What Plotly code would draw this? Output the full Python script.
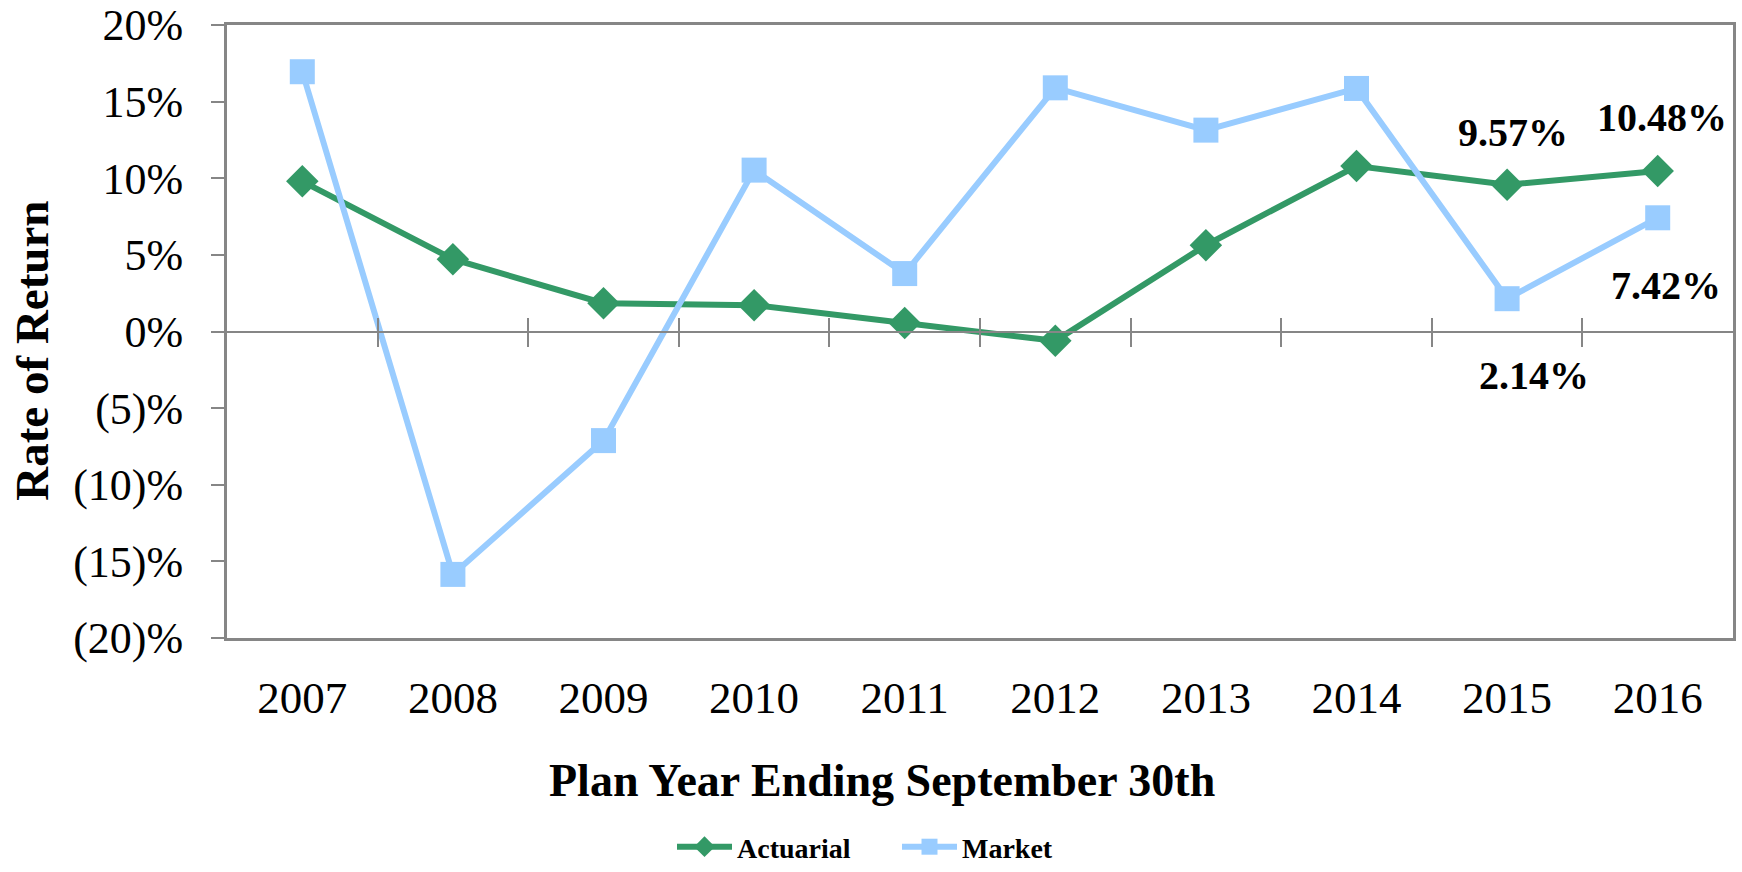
import plotly.graph_objects as go

# ── Data ─────────────────────────────────────────────
YEARS = [2007, 2008, 2009, 2010, 2011, 2012, 2013, 2014, 2015, 2016]
ACTUARIAL = [9.8, 4.72, 1.85, 1.72, 0.55, -0.61, 5.63, 10.8, 9.57, 10.48]
MARKET = [16.95, -15.85, -7.12, 10.53, 3.78, 15.9, 13.14, 15.86, 2.14, 7.42]

Y_TICKS = [20, 15, 10, 5, 0, -5, -10, -15, -20]
Y_TICK_TEXT = ["20%", "15%", "10%", "5%", "0%", "(5)%", "(10)%", "(15)%", "(20)%"]

GREEN = "#339966"
BLUE = "#99CCFF"
GRAY = "#868686"
FONT = "Liberation Serif"

fig = go.Figure()

fig.add_trace(go.Scatter(
    x=YEARS, y=ACTUARIAL, name="Actuarial", mode="lines+markers",
    line=dict(color=GREEN, width=6),
    marker=dict(symbol="diamond", size=25, color=GREEN),
))
fig.add_trace(go.Scatter(
    x=YEARS, y=MARKET, name="Market", mode="lines+markers",
    line=dict(color=BLUE, width=6),
    marker=dict(symbol="square", size=25, color=BLUE),
))

# labels on the last two years
labels = [
    (YEARS[8], ACTUARIAL[8], 6, 52),
    (YEARS[9], ACTUARIAL[9], 4, 53),
    (YEARS[8], MARKET[8], 27, -77),
    (YEARS[9], MARKET[9], 8, -68),
]
for x, y, dx, dy in labels:
    fig.add_annotation(
        x=x, y=y, text=f"<b>{y:.2f}%</b>", showarrow=False,
        xshift=dx, yshift=dy, font=dict(family=FONT, size=40, color="black"),
    )

xr = [YEARS[0] - 0.5, YEARS[-1] + 0.5]
bounds = [y + 0.5 for y in YEARS[:-1]]
zero_pos = (0 - Y_TICKS[-1]) / (Y_TICKS[0] - Y_TICKS[-1])

fig.update_layout(
    width=1742, height=872,
    paper_bgcolor="white", plot_bgcolor="white",
    margin=dict(l=227, r=9, t=25, b=234),
    font=dict(family=FONT, color="black"),
    xaxis=dict(
        range=xr, tickvals=YEARS, ticktext=[str(y) for y in YEARS],
        showgrid=False, zeroline=False, ticks="", automargin=False,
        showline=True, mirror=True, linecolor=GRAY, linewidth=3,
        tickfont=dict(family=FONT, size=45), ticklabelstandoff=18,
    ),
    xaxis2=dict(
        range=xr, overlaying="x", anchor="free", position=zero_pos,
        tickvals=bounds, showticklabels=False, ticks="outside", ticklen=14,
        tickwidth=2, tickcolor=GRAY, showline=True, linecolor=GRAY, linewidth=2,
        showgrid=False, zeroline=False, automargin=False,
    ),
    xaxis3=dict(
        range=xr, overlaying="x", anchor="free", position=zero_pos,
        tickvals=bounds, showticklabels=False, ticks="inside", ticklen=14,
        tickwidth=2, tickcolor=GRAY, showline=False,
        showgrid=False, zeroline=False, automargin=False,
    ),
    yaxis=dict(
        range=[Y_TICKS[-1], Y_TICKS[0]], tickvals=Y_TICKS, ticktext=Y_TICK_TEXT,
        showgrid=False, zeroline=False, automargin=False,
        ticks="outside", ticklen=13, tickwidth=2, tickcolor=GRAY,
        showline=True, mirror=True, linecolor=GRAY, linewidth=3,
        tickfont=dict(family=FONT, size=44), ticklabelstandoff=19,
    ),
    showlegend=True,
    legend=dict(
        orientation="h", xref="container", yref="container",
        x=(672 / 1742), y=-0.008, xanchor="left", yanchor="bottom",
        font=dict(family=FONT, size=28, color="black", weight="bold"),
        itemwidth=55, entrywidth=155,
        bgcolor="rgba(0,0,0,0)",
    ),
)

# make the overlay axes render (they carry no traces)
fig.add_trace(go.Scatter(x=[], y=[], xaxis="x2", showlegend=False, hoverinfo="skip"))
fig.add_trace(go.Scatter(x=[], y=[], xaxis="x3", showlegend=False, hoverinfo="skip"))

fig.add_annotation(
    x=(882 - 227) / 1506, y=-0.233, xref="paper", yref="paper",
    text="<b>Plan Year Ending September 30th</b>", showarrow=False,
    font=dict(family=FONT, size=46), xanchor="center", yanchor="middle",
)
fig.add_annotation(
    x=-0.130, y=0.469, xref="paper", yref="paper", textangle=-90,
    text="<b>Rate of Return</b>", showarrow=False,
    font=dict(family=FONT, size=47), xanchor="center", yanchor="middle",
)

fig.write_html(
    "out.html",
    config={"displayModeBar": False},
    post_script="document.body.style.margin='0';",
)
